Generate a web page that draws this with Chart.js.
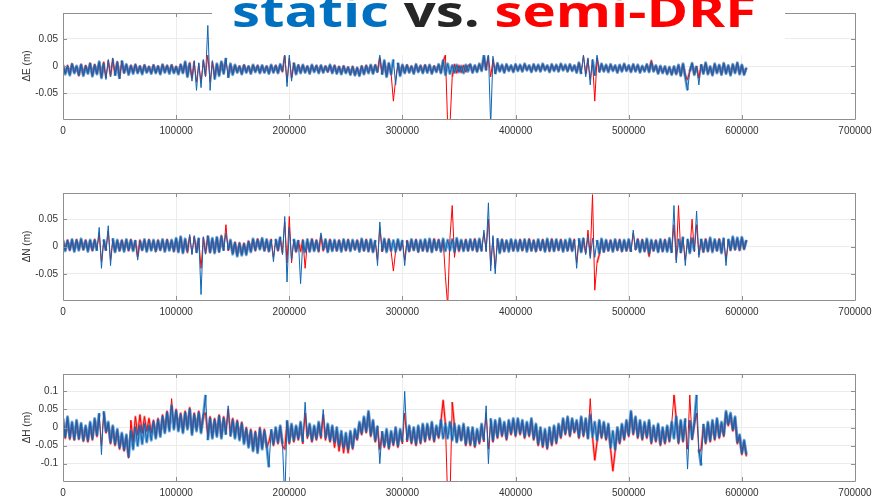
<!DOCTYPE html>
<html>
<head>
<meta charset="utf-8">
<script src="https://cdn.jsdelivr.net/npm/chart.js@4.4.1/dist/chart.umd.min.js"></script>
<style>
  body { margin: 0; background: #fff; }
  #wrap { position: relative; width: 882px; height: 497px; overflow: hidden; background: #fff; }
  canvas { position: absolute; left: 0; }
  #title {
    position: absolute; left: 212px; top: 0; width: 573px; height: 55px;
    background: #fff; overflow: hidden;
  }
  #title span.t {
    position: absolute; left: 20px; top: -11px; white-space: nowrap;
    font-family: "Open Sans", "Noto Sans", sans-serif; font-weight: 700;
    font-size: 43px; line-height: 43px;
    transform: scaleX(1.31); transform-origin: left top;
  }
</style>
</head>
<body>
<div id="wrap">
  <canvas id="chartE" width="882" height="150" style="top:0px"></canvas>
  <canvas id="chartN" width="882" height="150" style="top:175px"></canvas>
  <canvas id="chartH" width="882" height="142" style="top:355px"></canvas>
  <div id="title"><span class="t"><span style="color:#0070c0">static</span> <span style="color:#262626">vs.</span> <span style="color:#ff0000">semi-DRF</span></span></div>
</div>
<script>
// epochs: one sample every 2000 s, 0 .. 604000
const epochStep = 2000;

const xTicks = [0, 100000, 200000, 300000, 400000, 500000, 600000, 700000];
const yTicksEN = [-0.05, 0, 0.05];
const yTicksH = [-0.1, -0.05, 0, 0.05, 0.1];

// position differences, read in millimetres
const eStaticMm = [
  2,-15,-1,-17,3,-13,0,-16,2,-18,
  -1,-14,4,-19,1,-15,8,-22,5,-25,
  12,-20,15,-18,6,-24,10,-12,3,-16,
  0,-14,2,-13,-1,-15,1,-12,-2,-14,
  1,-13,-1,-15,2,-12,0,-14,1,-13,
  -2,-15,2,-13,8,-20,5,-28,10,-45,
  6,-40,12,-20,75,-45,10,-25,4,-18,
  8,-14,15,-22,4,-16,2,-12,-1,-15,
  1,-12,-1,-14,2,-11,0,-13,1,-12,
  -1,-14,2,-12,0,-13,3,-10,25,-38,
  20,-28,6,-15,1,-13,2,-12,-1,-14,
  2,-11,0,-13,1,-12,-1,-10,2,-13,
  0,-14,-2,-15,-1,-13,-3,-16,-2,-17,
  -4,-18,-1,-15,0,-13,2,-14,1,-12,
  20,-16,10,-20,5,-15,12,-35,6,-18,
  2,-13,1,-12,-1,-14,3,-11,0,-13,
  1,-12,2,-14,-1,-11,3,-13,10,-16,
  4,-14,1,-12,2,-11,0,-13,2,-10,
  3,-12,1,-11,4,-9,20,-8,25,-110,
  18,-15,5,-10,2,-12,3,-9,1,-11,
  3,-9,2,-10,4,-8,1,-11,3,-9,
  2,-10,4,-8,1,-11,3,-9,2,-10,
  4,-8,2,-10,3,-9,1,-12,6,-15,
  20,-20,15,-35,12,-18,20,-12,4,-10,
  2,-11,3,-9,1,-12,2,-10,4,-9,
  1,-11,3,-10,2,-12,0,-10,3,-11,
  6,-10,1,-14,0,-13,-1,-15,-2,-16,
  -1,-15,2,-18,4,-20,-45,-10,5,-16,
  0,-35,3,-14,6,-15,-1,-17,4,-13,
  2,-16,5,-14,1,-17,3,-13,6,-15,
  2,-16,-3
];
const eSemiMm = [
  0,-13,1,-15,4,-12,-1,-18,3,-16,
  1,-12,5,-17,3,-14,6,-20,7,-22,
  10,-18,12,-16,8,-22,8,-13,2,-14,
  1,-12,3,-12,0,-13,2,-11,-1,-13,
  2,-12,0,-14,3,-11,1,-12,2,-12,
  -1,-14,3,-12,6,-18,6,-22,8,-30,
  5,-30,10,-18,20,-30,8,-20,3,-16,
  7,-13,12,-20,3,-14,1,-11,0,-14,
  2,-11,0,-13,1,-10,1,-12,0,-11,
  0,-13,1,-11,1,-12,2,-11,18,-30,
  15,-22,5,-14,2,-12,1,-11,0,-13,
  1,-10,1,-12,0,-11,0,-11,1,-12,
  1,-13,-1,-14,0,-12,-2,-15,-1,-16,
  -3,-17,0,-14,1,-12,1,-13,2,-11,
  15,-14,8,-18,4,-14,-65,-25,5,-16,
  1,-12,2,-11,0,-13,2,-10,1,-12,
  2,-11,1,-13,0,-10,2,-12,8,20,
  -110,-110,-20,3,-13,1,-12,1,-11,1,
  2,-11,0,-10,3,-8,15,-7,18,-20,
  12,-13,4,-9,1,-11,2,-8,0,-10,
  2,-8,1,-9,3,-7,0,-10,2,-8,
  1,-9,3,-7,0,-10,2,-8,1,-9,
  3,-7,1,-9,2,-8,0,-11,5,-13,
  20,-15,12,-25,10,-65,15,-10,3,-9,
  1,-10,2,-8,0,-11,1,-9,3,-8,
  0,-10,2,-9,1,-11,-1,-9,2,-10,
  10,-9,0,-13,-1,-12,-2,-14,-3,-15,
  -2,-14,1,-17,3,-18,-25,-9,4,-15,
  -1,-22,2,-13,5,-14,-2,-16,3,-12,
  1,-15,4,-13,0,-16,2,-12,5,-14,
  1,-15,-4
];

const nStaticMm = [
  12,-8,10,-6,13,-9,11,-7,14,-5,
  10,-9,12,-6,11,-8,35,-40,13,-7,
  38,-35,15,-10,12,-7,10,-9,13,-6,
  11,-8,12,-25,10,-6,13,-9,11,-7,
  12,-8,10,-6,13,-9,11,-7,12,-8,
  15,-10,18,-12,14,-9,22,-15,20,-12,
  16,-88,18,-14,20,-10,15,-12,17,-9,
  18,-8,25,-6,12,-14,6,-18,5,-16,
  4,-15,8,-10,14,-6,12,-5,15,-7,
  13,-8,12,-28,14,-6,18,-15,55,-65,
  35,-25,14,-8,12,-68,11,-10,13,-9,
  12,-8,10,-9,25,-6,13,-10,11,-8,
  12,-7,10,-9,13,-6,11,-8,12,-5,
  10,-9,14,-7,11,-8,13,-10,12,-35,
  45,-8,14,-10,12,-7,11,-9,13,-6,
  12,-35,10,-8,13,-6,11,-9,12,-7,
  13,-8,14,-10,12,-6,11,-9,14,-8,
  12,-7,13,-9,15,-6,12,-8,11,-7,
  13,-6,12,-8,14,-9,30,-10,80,-45,
  20,-50,15,-12,12,-8,11,-9,13,-7,
  12,-8,11,-6,13,-9,12,-7,10,-8,
  13,-6,11,-9,14,-7,12,-8,13,-6,
  11,-9,12,-7,14,-8,12,-40,15,-10,
  16,-15,18,-22,15,-20,12,-12,14,-9,
  12,-7,10,-9,13,-6,11,-8,12,-7,
  13,-9,30,-6,12,-10,11,-8,14,-12,
  12,-7,10,-10,13,-8,11,-9,15,-12,
  75,-30,14,-10,18,-35,14,-12,15,-8,
  65,-20,14,-9,12,-8,16,-10,13,-7,
  12,-12,16,-35,14,-6,18,-5,16,-6,
  17,-4,12
];
const nSemiMm = [
  10,-6,12,-7,11,-8,13,-5,12,-6,
  12,-7,10,-8,13,-6,25,-28,11,-8,
  28,-25,12,-9,10,-8,12,-7,11,-8,
  13,-6,10,-18,12,-7,11,-8,13,-6,
  10,-9,12,-7,11,-8,13,-6,10,-9,
  13,-9,16,-10,12,-11,18,-13,18,-10,
  14,-40,16,-12,18,-11,13,-10,15,-10,
  20,-6,40,-8,10,-12,8,-15,7,-14,
  6,-13,10,-8,12,-8,14,-4,13,-8,
  11,-9,14,-20,12,-8,15,-12,45,-30,
  55,-30,12,-10,10,-9,13,-40,9,-8,
  14,-7,12,-10,20,-8,11,-9,13,-7,
  10,-8,12,-7,11,-8,13,-7,10,-6,
  12,-8,12,-8,13,-9,11,-9,10,-25,
  35,-10,12,-8,14,-9,-45,-8,11,-7,
  10,-25,12,-9,11,-7,13,-10,10,-8,
  11,-9,12,-9,14,-7,13,-8,12,-55,
  -110,15,75,-20,13,-9,10,-7,13,-8,
  11,-7,14,-9,12,-8,25,-8,50,-35,
  16,-40,12,-10,13,-9,10,-7,12,-8,
  10,-7,13,-8,11,-7,14,-8,12,-9,
  11,-7,13,-8,12,-9,14,-8,11,-7,
  13,-8,10,-8,12,-7,14,-30,12,-9,
  14,-12,30,-18,95,-80,-30,-15,12,-10,
  10,-8,12,-8,11,-7,13,-9,10,-8,
  11,-10,25,-7,14,-9,13,-9,12,-18,
  10,-8,12,-9,11,-9,13,-8,12,-10,
  40,-25,75,-12,15,-25,12,-10,50,-10,
  40,-15,12,-10,14,-9,13,-8,11,-8,
  14,-10,13,-25,12,-7,15,-6,14,-7,
  15,-5,11
];

const hStaticMm = [
  25,-25,30,-28,15,-32,20,-30,12,-35,
  5,-35,15,-30,25,-20,40,-75,45,-10,
  15,-40,5,-45,-5,-55,-15,-60,-20,-80,
  -10,-60,0,-50,5,-45,10,-40,5,-35,
  15,-30,20,-25,30,-15,40,-10,60,-5,
  45,-10,35,-15,40,-5,50,-20,35,-10,
  40,-15,30,90,-35,25,-30,20,-25,30,
  -30,25,-20,60,-25,20,-30,15,-35,10,
  -45,-5,-55,-10,-65,-15,-70,-5,-60,-10,
  -50,-110,-5,-45,0,-40,5,-45,-200,20,
  -40,10,-35,5,-30,15,-40,70,-25,10,
  -35,5,-30,15,-25,50,-30,10,-35,5,
  -40,0,-50,-10,-55,-15,-60,-10,-55,-5,
  -30,15,-15,30,-10,45,-20,20,-35,5,
  -100,-10,-50,-5,-55,-10,-45,0,-50,-5,
  -40,100,-35,5,-40,0,-45,5,-40,10,
  -35,10,-30,15,-35,5,-25,20,-30,10,
  -30,15,-35,10,-40,5,-35,10,-45,0,
  -45,0,-50,-5,-40,10,-35,60,-100,25,
  -35,20,-25,25,-20,15,-30,20,-15,25,
  -20,25,-15,20,-25,15,-20,25,-30,10,
  -45,0,-50,-5,-55,0,-45,5,-40,10,
  -25,25,-15,30,-20,25,-10,20,-25,30,
  -20,25,-30,35,-25,15,-35,20,-25,15,
  -30,10,-55,-10,-60,0,-40,10,-30,20,
  -20,45,-15,30,-25,20,-30,15,-25,20,
  -40,5,-35,10,-45,0,-40,5,-35,15,
  -30,30,-40,20,-35,25,-115,20,-30,15,
  90,-60,-105,10,-40,15,-35,20,-30,25,
  -25,15,-20,45,10,40,-5,30,-40,-20,
  -70,-35,-75
];
const hSemiMm = [
  20,-30,25,-33,10,-35,15,-33,8,-38,
  0,-40,10,-35,20,-25,35,-50,40,-15,
  10,-45,0,-50,-10,-60,-20,-65,-25,-85,
  20,-40,30,-20,35,-15,30,-10,25,-15,
  20,-25,25,-20,35,-10,45,-5,80,0,
  50,-5,40,-10,45,0,55,-15,40,-5,
  45,-10,35,40,-25,30,-25,25,-20,35,
  -25,30,-15,50,-20,25,-25,20,-30,15,
  -40,0,-50,-5,-60,-10,-65,0,-55,-5,
  -55,-40,-10,-50,-5,-45,0,-50,-60,15,
  -45,5,-40,0,-35,10,-45,40,-30,5,
  -40,0,-35,10,-30,35,-35,5,-40,0,
  -55,-10,-65,-20,-70,-25,-70,-15,-60,-10,
  -35,10,-20,25,-15,40,-25,15,-40,0,
  -60,-15,-55,-10,-60,-15,-50,-5,-55,-10,
  -45,40,-40,0,-45,-5,-50,0,-45,5,
  -40,5,-35,10,-40,0,-30,15,75,10,
  -200,-200,70,5,-40,0,-35,5,-50,-5,
  -50,-5,-55,-10,-45,5,-40,40,-60,20,
  -40,15,-30,20,-25,10,-35,15,-20,20,
  -25,20,-20,15,-30,10,-25,20,-35,5,
  -50,-5,-55,-10,-60,-5,-50,0,-45,5,
  -30,20,-20,25,-25,20,-15,15,-30,25,
  -25,20,-30,80,-25,-90,-40,15,-30,10,
  -35,5,-60,-120,-65,-5,-45,5,-35,15,
  -25,40,-20,25,-30,15,-35,10,-30,15,
  -45,0,-40,5,-50,-5,-45,0,-40,10,
  90,25,-45,15,-40,20,-60,90,-35,10,
  40,-70,-60,5,-45,10,-40,15,-35,20,
  -30,10,-25,40,5,35,-10,25,-45,-25,
  -75,-40,-80
];

const FONT = "'Liberation Sans', Arial, sans-serif";

// mm -> m, one point per epoch
function toPoints(mm) {
  return mm.map((v, i) => ({ x: i * epochStep, y: v / 1000 }));
}

// box + inward ticks like MATLAB axes
const axesFrame = {
  id: "axesFrame",
  afterDraw(chart) {
    const { ctx, chartArea: a, scales } = chart;
    ctx.save();
    ctx.strokeStyle = "#8f8f8f";
    ctx.lineWidth = 1;
    ctx.beginPath();
    ctx.rect(Math.round(a.left) + 0.5, Math.round(a.top) + 0.5,
             Math.round(a.right - a.left), Math.round(a.bottom - a.top));
    xTicks.forEach(v => {
      const px = Math.round(scales.x.getPixelForValue(v)) + 0.5;
      ctx.moveTo(px, a.bottom); ctx.lineTo(px, a.bottom - 4);
      ctx.moveTo(px, a.top); ctx.lineTo(px, a.top + 4);
    });
    scales.y.ticks.forEach(t => {
      const py = Math.round(scales.y.getPixelForValue(t.value)) + 0.5;
      ctx.moveTo(a.left, py); ctx.lineTo(a.left + 4, py);
      ctx.moveTo(a.right, py); ctx.lineTo(a.right - 4, py);
    });
    ctx.stroke();
    ctx.restore();
  }
};

function line(label, mm, color, width, order) {
  return { label, data: toPoints(mm), borderColor: color, borderWidth: width,
           pointRadius: 0, tension: 0, order };
}

// wide soft stroke that fills the noise band but stays off the large spikes
function band(label, mm, color, width, order, jump) {
  return {
    label, data: toPoints(mm), borderColor: color, borderWidth: width,
    pointRadius: 0, tension: 0, order, borderJoinStyle: "round",
    segment: {
      borderColor: c => Math.abs(c.p1.parsed.y - c.p0.parsed.y) > jump ? "rgba(0,0,0,0)" : undefined
    }
  };
}

function makeChart(id, blue, red, yLabel, yLim, yTicks, padTop, xHeight, jump) {
  const ctx = document.getElementById(id).getContext("2d");
  return new Chart(ctx, {
    type: "line",
    data: {
      datasets: [
        line("static", blue, "#0d66b4", 1, 0),
        band("static band", blue, "rgba(16,102,182,0.6)", 3, 1, jump),
        line("semi-DRF", red, "#ff0000", 1, 2),
        band("semi-DRF band", red, "rgba(255,20,20,0.45)", 2.4, 3, jump)
      ]
    },
    options: {
      responsive: false,
      animation: false,
      events: [],
      layout: { padding: { top: padTop, left: 21, right: 27, bottom: 0 } },
      plugins: { legend: { display: false }, tooltip: { enabled: false } },
      scales: {
        x: {
          type: "linear", min: 0, max: 700000,
          afterBuildTicks: s => { s.ticks = xTicks.map(v => ({ value: v })); },
          afterFit: s => { s.height = xHeight; },
          grid: { color: "#ececec", drawTicks: false },
          border: { display: false },
          ticks: {
            autoSkip: false, maxRotation: 0, minRotation: 0, padding: 6,
            color: "#333", font: { family: FONT, size: 10 },
            callback: v => String(v)
          }
        },
        y: {
          min: -yLim, max: yLim,
          afterBuildTicks: s => { s.ticks = yTicks.map(v => ({ value: v })); },
          afterFit: s => { s.width = 42; },
          grid: { color: "#ececec", drawTicks: false },
          border: { display: false },
          ticks: {
            padding: 5, color: "#333", font: { family: FONT, size: 10 },
            callback: v => String(v)
          },
          title: {
            display: true, text: yLabel, color: "#333",
            font: { family: FONT, size: 10 }, padding: { top: 0, bottom: 0 }
          }
        }
      }
    },
    plugins: [axesFrame]
  });
}

makeChart("chartE", eStaticMm, eSemiMm, "ΔE (m)", 0.098, yTicksEN, 13, 31, 0.03);
makeChart("chartN", nStaticMm, nSemiMm, "ΔN (m)", 0.098, yTicksEN, 18, 25, 0.03);
makeChart("chartH", hStaticMm, hSemiMm, "ΔH (m)", 0.148, yTicksH, 19, 16, 0.075);
</script>
</body>
</html>
